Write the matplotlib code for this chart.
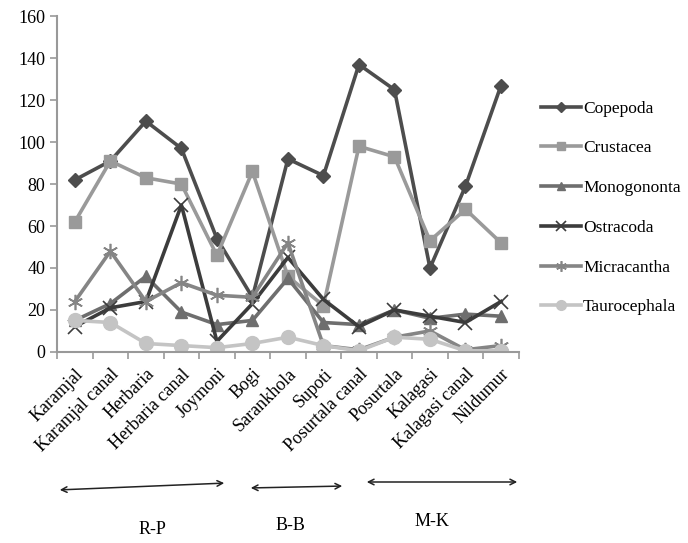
import matplotlib
matplotlib.use("Agg")
import matplotlib.pyplot as plt
import numpy as np

plt.rcParams['font.family'] = ['Liberation Serif', 'DejaVu Serif']

sites = ['Karamjal', 'Karamjal canal', 'Herbaria', 'Herbaria canal', 'Joymoni', 'Bogi',
         'Sarankhola', 'Supoti', 'Posurtala canal', 'Posurtala', 'Kalagasi',
         'Kalagasi canal', 'Nildumur']

copepoda = [82, 91, 110, 97, 54, 26, 92, 84, 137, 125, 40, 79, 127]
crustacea = [62, 91, 83, 80, 46, 86, 36, 22, 98, 93, 53, 68, 52]
monogononta = [15, 23, 36, 19, 13, 15, 35, 14, 13, 20, 16, 18, 17]
ostracoda = [12, 21, 24, 70, 5, 23, 45, 25, 12, 20, 17, 14, 24]
micracantha = [24, 48, 24, 33, 27, 26, 52, 3, 1, 7, 10, 1, 3]
taurocephala = [15, 14, 4, 3, 2, 4, 7, 3, 0.5, 7, 6, 0.5, 0.5]

groups = ['R-P', 'B-B', 'M-K']

fig = plt.figure(figsize=(6.88, 5.43), dpi=100)
ax = fig.add_axes([0.083, 0.352, 0.671, 0.618])

x = np.arange(len(sites))
lw = 2.6
ax.plot(x, copepoda, color='#4d4d4d', lw=lw, marker='D', ms=7, label='Copepoda')
ax.plot(x, crustacea, color='#9a9a9a', lw=lw, marker='s', ms=9, label='Crustacea')
ax.plot(x, monogononta, color='#6e6e6e', lw=lw, marker='^', ms=9, label='Monogononta')
ax.plot(x, ostracoda, color='#3c3c3c', lw=lw, marker='x', ms=10, mew=1.2, label='Ostracoda')
ax.plot(x, micracantha, color='#858585', lw=lw, marker=(6, 2, 0), ms=11, mew=1.2, label='Micracantha')
ax.plot(x, taurocephala, color='#c4c4c4', lw=lw, marker='o', ms=10, label='Taurocephala')

ax.set_xlim(-0.5, len(sites) - 0.5)
ax.set_ylim(0, 160)
ax.set_yticks(range(0, 161, 20))
ax.set_xticks(x)
ax.set_xticklabels(sites, rotation=45, ha='right', rotation_mode='anchor', fontsize=13)
ax.set_xticks(np.arange(-0.5, len(sites)), minor=True)
ax.tick_params(axis='x', which='major', length=0, pad=10)
ax.tick_params(axis='x', which='minor', length=5, color='#999999', width=1.2)
ax.tick_params(axis='y', length=5, color='#999999', width=1.2, labelsize=13)
for s in ['top', 'right']:
    ax.spines[s].set_visible(False)
for s in ['left', 'bottom']:
    ax.spines[s].set_color('#999999')
    ax.spines[s].set_linewidth(1.5)

fig.legend(loc='upper left', bbox_to_anchor=(0.787, 0.815), frameon=False,
           fontsize=12.5, handlelength=2.3, labelspacing=1.36, handletextpad=0.1,
           markerscale=0.7, borderpad=0, borderaxespad=0)

# group arrows under the site names
arrows = [(57, 227, 490, 483), (248, 345, 488, 486), (364, 520, 482, 482)]
label_pos = [(152, 530), (290, 526), (432, 521)]
W, H = 688, 543
for (x0, x1, y0, y1), g, (lx, ly) in zip(arrows, groups, label_pos):
    fig.add_artist(matplotlib.patches.FancyArrowPatch(
        (x0 / W, 1 - y0 / H), (x1 / W, 1 - y1 / H), transform=fig.transFigure,
        arrowstyle='<->', mutation_scale=10, color='#222222', lw=1.1))
    fig.text(lx / W, 1 - ly / H, g, ha='center', va='center', fontsize=13)

fig.savefig('out.png', dpi=100)
